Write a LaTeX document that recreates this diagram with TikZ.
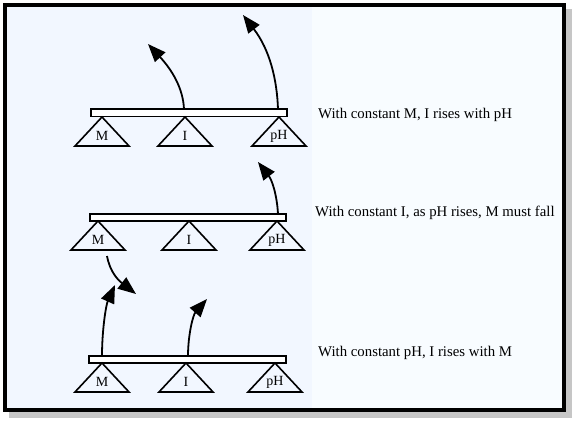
\documentclass[tikz,border=0pt]{standalone}
\usepackage{fontspec}
\setmainfont{Liberation Serif}
\usetikzlibrary{arrows.meta}
\definecolor{panelL}{HTML}{F2F7FF}
\definecolor{panelR}{HTML}{F8FCFF}
\newcommand\pivotat[4]{%
  \draw[pivot] (#2,#3) -- ++(-27,29) -- ++(54,0) -- cycle;
  \node[lbl] (#1) at (#2,#3+19) {#4};}
\begin{document}
\begin{tikzpicture}[x=1pt,y=-1pt,
  beam/.style={draw=black,fill=white,line width=1.2pt},
  pivot/.style={draw=black,line width=1.6pt,line join=miter},
  lbl/.style={font=\fontsize{14}{15}\selectfont,inner sep=0pt},
  caption/.style={font=\fontsize{14.8}{16}\selectfont,anchor=west,inner sep=0pt},
  move/.style={line width=1.8pt,-{Triangle[length=18pt,width=14pt]}}]
\useasboundingbox (0,0) rectangle (574,421);
% frame with shadow
\fill[gray!45] (9,9) rectangle (572,418);
\fill[panelL] (5,5) rectangle (312,410);
\fill[panelR] (312,5) rectangle (563,410);
\draw[black,line width=4pt] (5,5) rectangle (563.5,410);

% ---- diagram 1
\draw[beam] (91,109) rectangle (287,116.5);
\pivotat{m1}{102}{117}{M}
\pivotat{i1}{185}{117}{I}
\pivotat{p1}{279}{117}{pH}
\coordinate (a1s) at (184,109); \coordinate (a1e) at (148,44);
\coordinate (a2s) at (278,109); \coordinate (a2e) at (243,15);
\draw[move] (a1s) .. controls (183,88) and (172,70) .. (a1e);
\draw[move] (a2s) .. controls (277,80) and (270,50) .. (a2e);
\node[caption] (c1) at (318,115) {With constant M, I rises with pH};

% ---- diagram 2
\draw[beam] (90,214) rectangle (286,221);
\pivotat{m2}{98}{221}{M}
\pivotat{i2}{189}{221}{I}
\pivotat{p2}{277}{221}{pH}
\coordinate (a3s) at (278,214); \coordinate (a3e) at (258,162);
\draw[move] (a3s) .. controls (277,195) and (272,180) .. (a3e);
\node[caption] (c2) at (315,213) {With constant I, as pH rises, M must fall};

% ---- diagram 3
\draw[beam] (89,356) rectangle (286,363);
\pivotat{m3}{102}{363}{M}
\pivotat{i3}{186}{363}{I}
\pivotat{p3}{275}{363}{pH}
\coordinate (a4s) at (107,256); \coordinate (a4e) at (136,294);
\coordinate (a5s) at (102,356); \coordinate (a5e) at (115,285);
\coordinate (a6s) at (188,356); \coordinate (a6e) at (207,299);
\draw[move] (a4s) .. controls (110,272) and (118,280) .. (a4e);
\draw[move] (a5s) .. controls (102,330) and (106,305) .. (a5e);
\draw[move] (a6s) .. controls (188,335) and (193,315) .. (a6e);
\node[caption] (c3) at (318,353) {With constant pH, I rises with M};
\end{tikzpicture}
\end{document}
